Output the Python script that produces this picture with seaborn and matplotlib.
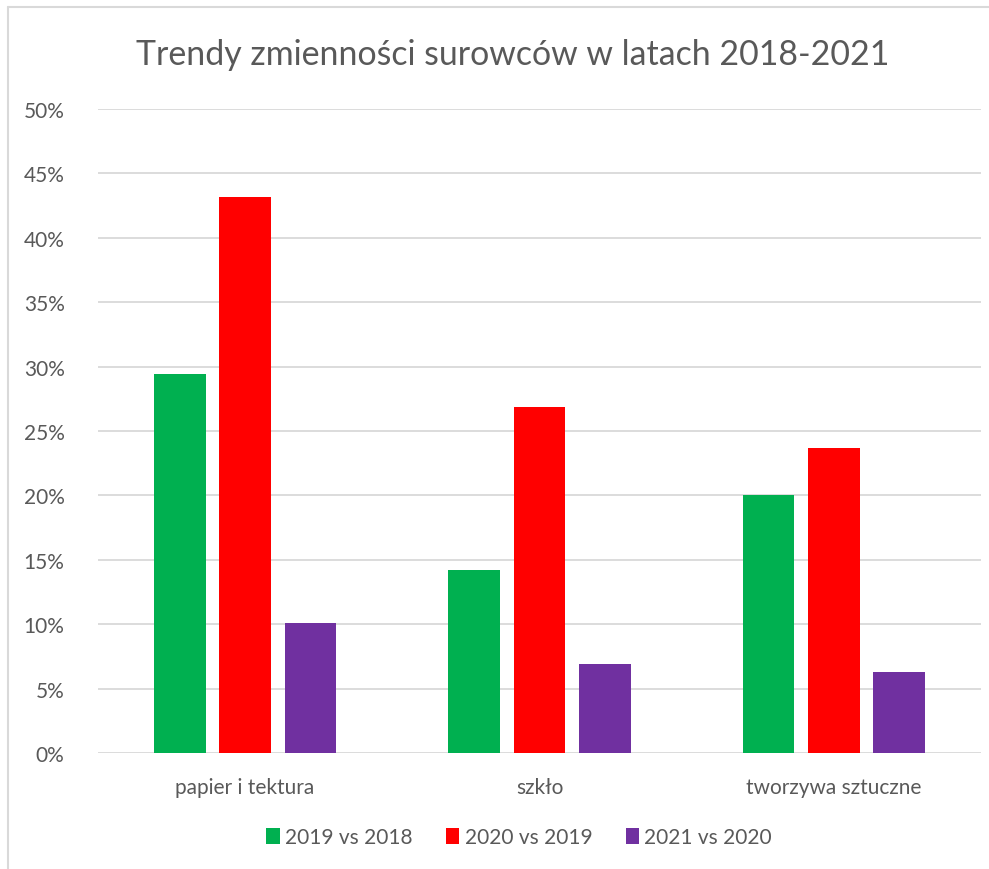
import matplotlib.pyplot as plt
import matplotlib.lines as mlines
import pandas as pd
import numpy as np
import seaborn as sns

# dane
kategorie = ["papier i tektura", "szkło", "tworzywa sztuczne"]
serie = ["2019 vs 2018", "2020 vs 2019", "2021 vs 2020"]
v_2019 = [29.4, 14.2, 20.0]
v_2020 = [43.2, 26.9, 23.7]
v_2021 = [10.1, 6.9, 6.3]
kolory = ["#00B050", "#FF0000", "#7030A0"]

df = pd.DataFrame({
    "kategoria": kategorie * 3,
    "seria": [serie[0]] * 3 + [serie[1]] * 3 + [serie[2]] * 3,
    "wartosc": v_2019 + v_2020 + v_2021,
})

sns.set_style("white")
plt.rcParams["font.family"] = ["Lato", "DejaVu Sans"]
szary = "#595959"

fig = plt.figure(figsize=(9.89, 8.70), dpi=100)
ax = fig.add_axes([0.099, 0.1333, 0.893, 0.7403])

sns.barplot(data=df, x="kategoria", y="wartosc", hue="seria", palette=kolory,
            saturation=1, width=0.665, gap=0.21, linewidth=0, ax=ax, legend=True)

ax.set_ylim(0, 50)
ax.set_xlim(-0.5, 2.5)
ax.set_yticks(np.arange(0, 51, 5))
ax.set_yticklabels([f"{t}%" for t in range(0, 51, 5)])
ax.yaxis.grid(True, color="#D9D9D9", linewidth=1.3)
ax.set_axisbelow(True)
for s in ax.spines.values():
    s.set_visible(False)
ax.tick_params(axis="both", length=0, colors=szary, labelsize=15)
ax.tick_params(axis="y", pad=24)
ax.tick_params(axis="x", pad=17)
ax.set_xlabel("")
ax.set_ylabel("")

fig.text(0.518, 0.937, "Trendy zmienności surowców w latach 2018-2021",
         ha="center", va="center", fontsize=24.4, color=szary)

ax.legend(loc="center", bbox_to_anchor=(0.477, -0.131), ncol=3, frameon=False,
          fontsize=15, handlelength=0.65, handleheight=0.8, handletextpad=0.25,
          columnspacing=1.6, labelcolor=szary)

# ramka wykresu
fig.add_artist(mlines.Line2D([8 / 989, 8 / 989], [0, 1 - 8 / 870], color="#D9D9D9", lw=1.5))
fig.add_artist(mlines.Line2D([8 / 989, 1], [1 - 8 / 870, 1 - 8 / 870], color="#D9D9D9", lw=1.5))

fig.savefig("out.png", dpi=100)
